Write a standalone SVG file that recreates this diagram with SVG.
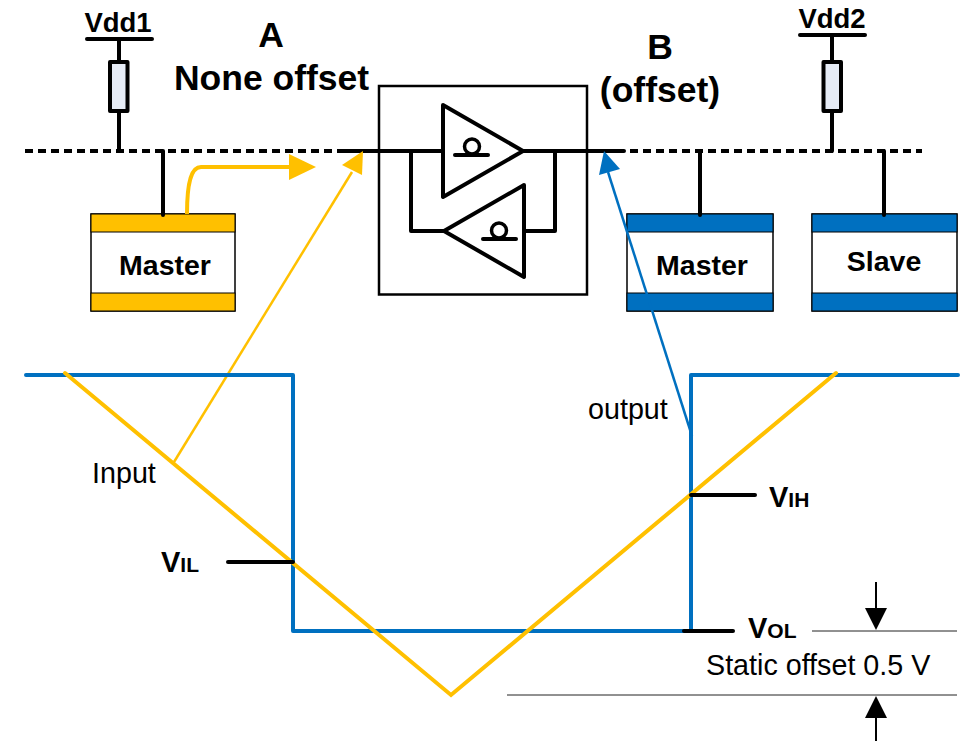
<svg xmlns="http://www.w3.org/2000/svg" width="968" height="741" viewBox="0 0 968 741">
<style>
text{font-family:"Liberation Sans",Arial,sans-serif;fill:#000}
.b{font-weight:bold}
.k{fill:none;stroke:#000;stroke-width:4;stroke-linecap:round;stroke-linejoin:round}
.dash{fill:none;stroke:#000;stroke-width:4;stroke-dasharray:8 5}
.thin{fill:none;stroke:#222;stroke-width:1}
.sig{fill:none;stroke:#0070c0;stroke-width:4;stroke-linecap:round;stroke-linejoin:round}
.inp{fill:none;stroke:#ffc000;stroke-width:4;stroke-linecap:round}
.res{fill:#e6ecf6;stroke:#000;stroke-width:4;stroke-linejoin:round}
.box{fill:#fff;stroke:#000;stroke-width:1.5}
.big{font-size:35.5px;text-anchor:middle}
.m{font-size:28.5px;text-anchor:middle}
.n{font-size:28.7px}
.v{font-size:29px}
.s{font-size:21px}
</style>
<g id="vdd1"><path class="k" d="M87 39H152"/><text class="b" x="118" y="31.5" font-size="27.5" text-anchor="middle">Vdd1</text><rect class="res" x="110" y="62" width="17.5" height="49"/></g>
<g id="vdd2"><path class="k" d="M800 35H865"/><text class="b" x="832" y="28" font-size="27.5" text-anchor="middle">Vdd2</text><rect class="res" x="823.5" y="62" width="17.5" height="49"/></g>
<g id="label-a"><text class="b big" x="271" y="47">A</text><text class="b big" x="271.500" y="90">None offset</text></g>
<g id="label-b"><text class="b big" x="660" y="59">B</text><text class="b big" x="660" y="102">(offset)</text></g>
<g id="repeater">
<rect x="379" y="86" width="208" height="208.500" fill="none" stroke="#000" stroke-width="2.500"/>
<path class="k" d="M443 105L523 151L443 197Z"/>
<path class="k" d="M455 155H488"/>
<circle cx="472" cy="146.500" r="7.500" fill="none" stroke="#000" stroke-width="3.500"/>
<path class="k" d="M524 185L444 231L524 277Z"/>
<path class="k" d="M483 239H516"/>
<circle cx="499" cy="230.500" r="7.500" fill="none" stroke="#000" stroke-width="3.500"/>
</g>
<g id="master-a"><rect class="box" x="91" y="214" width="144" height="97"/><rect x="91" y="214" width="144" height="18" fill="#ffc000" stroke="#000" stroke-width="1"/><rect x="91" y="293" width="144" height="18" fill="#ffc000" stroke="#000" stroke-width="1"/><text class="b m" x="165" y="275">Master</text></g>
<g id="master-b"><rect class="box" x="627" y="214" width="146" height="97"/><rect x="627" y="214" width="146" height="18" fill="#0070c0" stroke="#000" stroke-width="1"/><rect x="627" y="293" width="146" height="18" fill="#0070c0" stroke="#000" stroke-width="1"/><text class="b m" x="702" y="275">Master</text></g>
<g id="slave"><rect class="box" x="812" y="214" width="145" height="97"/><rect x="812" y="214" width="145" height="18" fill="#0070c0" stroke="#000" stroke-width="1"/><rect x="812" y="293" width="145" height="18" fill="#0070c0" stroke="#000" stroke-width="1"/><text class="b m" x="884" y="271">Slave</text></g>
<g id="connectors">
<path class="dash" d="M25 151H342"/>
<path class="dash" d="M630 151H922"/>
<path class="k" d="M342 151H443M523 151H624"/>
<path class="k" d="M119 39V62M119 112V151"/>
<path class="k" d="M832 37V62M832 112V151"/>
<path class="k" d="M163 151V215"/>
<path class="k" d="M700 151V215"/>
<path class="k" d="M884 151V215"/>
<path class="k" d="M411 151V231H444M524 231H555V151"/>
<path class="inp" d="M187 214C187 180 192 167 201 167H295" style="stroke-linecap:butt"/>
<path fill="#ffc000" d="M316 167L289 154V180Z"/>
<path fill="none" stroke="#ffc000" stroke-width="2.500" d="M174 462L352 172"/>
<path fill="#ffc000" d="M363 151L342 165L362 175Z"/>
<path fill="none" stroke="#0070c0" stroke-width="2.500" d="M692 436L608 172"/>
<path fill="#0070c0" d="M604 151L599 175L620 169Z"/>
<path class="sig" d="M26 375H293V631H691V375H958"/>
<path class="inp" d="M65 373L451 695L836 373"/>
<path class="k" d="M228 562H293"/>
<path class="k" d="M691 495H755"/>
<path class="k" d="M684 631H733"/>
<path class="thin" d="M812 631H957M507 695H957"/>
<path fill="none" stroke="#000" stroke-width="2" d="M876 582V610M876 715V741"/>
<path fill="#000" d="M876 630L865 608H887Z"/>
<path fill="#000" d="M876 696L865 718H887Z"/>
</g>
<g id="labels">
<text class="n" x="92" y="483">Input</text>
<text class="n" x="588" y="419">output</text>
<text class="b v" x="161" y="572">V<tspan class="s">IL</tspan></text>
<text class="b v" x="769" y="507">V<tspan class="s">IH</tspan></text>
<text class="b v" x="748" y="638">V<tspan class="s">OL</tspan></text>
<text class="n" x="706" y="675">Static offset 0.5 V</text>
</g>
</svg>
